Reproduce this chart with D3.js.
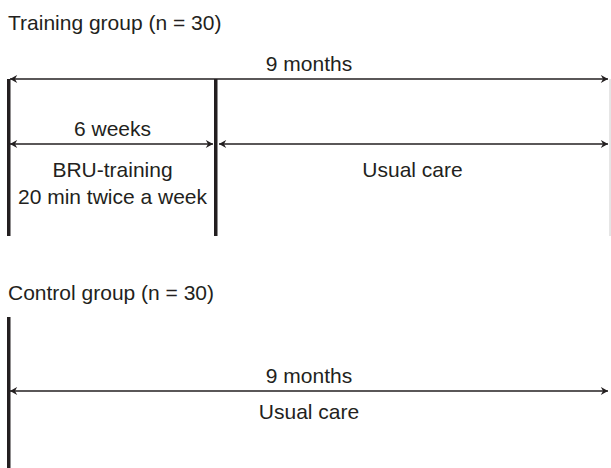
<!DOCTYPE html>
<html>
<head>
<meta charset="utf-8">
<script src="https://cdn.jsdelivr.net/npm/d3@7"></script>
<style>
  body { margin: 0; background: #fff; }
  text { font-family: "Liberation Sans", Arial, sans-serif; font-size: 21px; fill: #231f20; }
</style>
</head>
<body>
<svg id="myGraph" width="611" height="468"></svg>
<script>
// group titles
var groups = ["Training group (n = 30)", "Control group (n = 30)"]
// time points in months: start, end of training (6 weeks), end of follow-up
var timePoints = [0, 1.5, 9]
// periods: group index, start month, end month, label above, label lines below
var periodGroup = [0, 0, 0, 1]
var periodStart = [0, 0, 1.5, 0]
var periodEnd = [9, 1.5, 9, 9]
var periodTop = ["9 months", "6 weeks", "", "9 months"]
var periodBelow = [[], ["BRU-training", "20 min twice a week"], ["Usual care"], ["Usual care"]]
var periodRow = [0, 1, 1, 0]
// vertical markers per group (month)
var markerGroup = [0, 0, 1]
var markerMonth = [0, 1.5, 0]

var svg = d3.select("#myGraph")

// diagram is not to scale: piecewise scale from months to pixels
var xScale = d3.scaleLinear()
	.domain(timePoints)
	.range([9, 216, 609])

var groupTop = [79, 317]
var groupBottom = [236, 468]
var rowY = [[79, 144], [391, 391]]
var titleY = [30, 300]
var belowGap = [33, 28]

// arrow markers
var defs = svg.append("defs")
defs.append("marker")
	.attr("id", "head")
	.attr("viewBox", "0 -5 10 10")
	.attr("refX", 9).attr("refY", 0)
	.attr("markerWidth", 9).attr("markerHeight", 9)
	.attr("markerUnits", "userSpaceOnUse")
	.attr("orient", "auto-start-reverse")
	.append("path")
	.attr("d", "M1,-4.5 L9,0 L1,4.5 L3.5,0 Z")
	.attr("fill", "#231f20")

// group titles
svg.selectAll("text.title")
	.data(groups)
	.enter()
	.append("text")
	.attr("class", "title")
	.attr("x", 8)
	.attr("y", function(d, i) { return titleY[i] })
	.text(function(d) { return d })

// faint right border for training group
svg.append("line")
	.attr("x1", 610).attr("x2", 610)
	.attr("y1", groupTop[0]).attr("y2", groupBottom[0])
	.attr("stroke", "#ccc").attr("stroke-width", 1)

// vertical bars
svg.selectAll("rect.marker")
	.data(markerMonth)
	.enter()
	.append("rect")
	.attr("class", "marker")
	.attr("x", function(d) { return xScale(d) - 2 })
	.attr("width", 3.5)
	.attr("y", function(d, i) { return groupTop[markerGroup[i]] })
	.attr("height", function(d, i) { return groupBottom[markerGroup[i]] - groupTop[markerGroup[i]] })
	.attr("fill", "#231f20")

// arrows
svg.selectAll("line.period")
	.data(periodStart)
	.enter()
	.append("line")
	.attr("class", "period")
	.attr("x1", function(d, i) { return xScale(d) + (d > 0 ? 3 : 1) })
	.attr("x2", function(d, i) { return xScale(periodEnd[i]) - (periodEnd[i] < 9 ? 3 : 1) })
	.attr("y1", function(d, i) { return rowY[periodGroup[i]][periodRow[i]] })
	.attr("y2", function(d, i) { return rowY[periodGroup[i]][periodRow[i]] })
	.attr("stroke", "#231f20")
	.attr("stroke-width", 1.5)
	.attr("marker-start", "url(#head)")
	.attr("marker-end", "url(#head)")

// labels above arrows
svg.selectAll("text.top")
	.data(periodTop)
	.enter()
	.append("text")
	.attr("class", "top")
	.attr("text-anchor", "middle")
	.attr("x", function(d, i) { return (xScale(periodStart[i]) + xScale(periodEnd[i])) / 2 })
	.attr("y", function(d, i) { return rowY[periodGroup[i]][periodRow[i]] - 8 })
	.text(function(d) { return d })

// labels below arrows
periodBelow.forEach(function(lines, i) {
	svg.selectAll("text.below" + i)
		.data(lines)
		.enter()
		.append("text")
		.attr("text-anchor", "middle")
		.attr("x", (xScale(periodStart[i]) + xScale(periodEnd[i])) / 2)
		.attr("y", function(d, j) { return rowY[periodGroup[i]][periodRow[i]] + belowGap[periodGroup[i]] + j * 27 })
		.text(function(d) { return d })
})
</script>
</body>
</html>
